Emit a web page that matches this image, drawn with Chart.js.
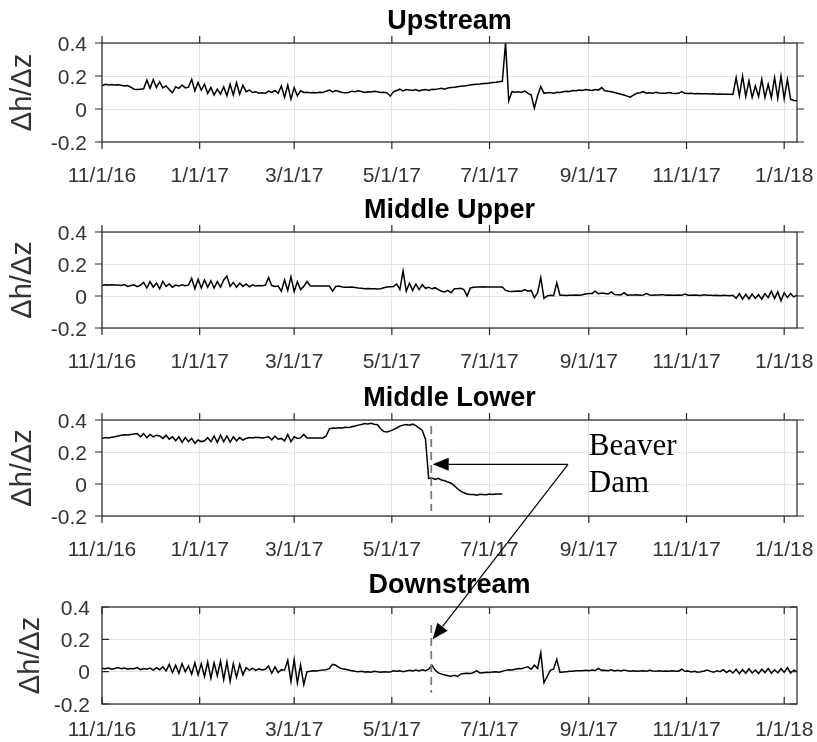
<!DOCTYPE html>
<html>
<head>
<meta charset="utf-8">
<script src="https://cdn.jsdelivr.net/npm/chart.js@4.4.1/dist/chart.umd.min.js"></script>
<style>
  html, body { margin: 0; background: #fff; }
  #fig { position: relative; width: 817px; height: 742px; }
  #fig canvas { position: absolute; left: 0; }
</style>
</head>
<body>
<div id="fig">
  <canvas id="up" width="817" height="187" style="top:0px"></canvas>
  <canvas id="midUp" width="817" height="184" style="top:189px"></canvas>
  <canvas id="midLow" width="817" height="184" style="top:377px"></canvas>
  <canvas id="down" width="817" height="178" style="top:564px"></canvas>
  <canvas id="notes" width="817" height="742" style="top:0px"></canvas>
</div>
<script>
// one sample every STEP days, day 0 = 11/1/16
const STEP = 2
const LAST_DAY = 434

const tickDays = [0, 61, 120, 181, 242, 304, 365, 426]
const tickLabels = ['11/1/16', '1/1/17', '3/1/17', '5/1/17', '7/1/17', '9/1/17', '11/1/17', '1/1/18']
const yTicks = [-0.2, 0, 0.2, 0.4]

const upstream = [
  0.140, 0.150, 0.146, 0.148, 0.145, 0.147, 0.144, 0.140, 0.142, 0.132,
  0.120, 0.118, 0.120, 0.122, 0.175, 0.125, 0.178, 0.130, 0.165, 0.128,
  0.140, 0.118, 0.098, 0.135, 0.125, 0.145, 0.128, 0.132, 0.180, 0.110,
  0.160, 0.115, 0.150, 0.095, 0.130, 0.085, 0.120, 0.090, 0.135, 0.080,
  0.150, 0.085, 0.160, 0.090, 0.145, 0.105, 0.115, 0.100, 0.105, 0.096,
  0.098, 0.095, 0.108, 0.100, 0.112, 0.095, 0.140, 0.070, 0.145, 0.060,
  0.130, 0.080, 0.110, 0.100, 0.102, 0.098, 0.100, 0.099, 0.101, 0.100,
  0.108, 0.115, 0.104, 0.112, 0.106, 0.100, 0.098, 0.100, 0.108, 0.104,
  0.110, 0.106, 0.100, 0.105, 0.103, 0.107, 0.105, 0.100, 0.102, 0.098,
  0.078, 0.105, 0.112, 0.120, 0.110, 0.118, 0.115, 0.112, 0.118, 0.110,
  0.115, 0.118, 0.112, 0.120, 0.118, 0.122, 0.125, 0.120, 0.128, 0.130,
  0.132, 0.135, 0.138, 0.140, 0.142, 0.145, 0.148, 0.150, 0.152, 0.155,
  0.155, 0.158, 0.160, 0.162, 0.165, 0.168, 0.400, 0.050, 0.105, 0.102,
  0.105, 0.100, 0.108, 0.095, 0.085, 0.005, 0.080, 0.137, 0.095, 0.098,
  0.100, 0.096, 0.102, 0.100, 0.105, 0.108, 0.106, 0.112, 0.110, 0.115,
  0.112, 0.118, 0.115, 0.112, 0.118, 0.114, 0.130, 0.110, 0.108, 0.104,
  0.100, 0.095, 0.090, 0.085, 0.078, 0.072, 0.085, 0.095, 0.098, 0.105,
  0.096, 0.098, 0.095, 0.102, 0.097, 0.095, 0.096, 0.100, 0.096, 0.094,
  0.095, 0.105, 0.095, 0.094, 0.095, 0.093, 0.094, 0.092, 0.093, 0.092,
  0.091, 0.092, 0.090, 0.091, 0.090, 0.090, 0.089, 0.088, 0.190, 0.080,
  0.200, 0.075, 0.170, 0.070, 0.140, 0.075, 0.180, 0.070, 0.150, 0.068,
  0.190, 0.065, 0.200, 0.062, 0.180, 0.060, 0.052, 0.050,
]

const middleUpper = [
  0.065, 0.070, 0.068, 0.071, 0.069, 0.068, 0.066, 0.072, 0.060, 0.065,
  0.070, 0.058, 0.068, 0.085, 0.050, 0.090, 0.055, 0.080, 0.045, 0.092,
  0.060, 0.075, 0.055, 0.068, 0.062, 0.070, 0.064, 0.068, 0.110, 0.045,
  0.105, 0.050, 0.100, 0.055, 0.095, 0.050, 0.090, 0.055, 0.100, 0.125,
  0.060, 0.085, 0.055, 0.080, 0.060, 0.075, 0.058, 0.070, 0.062, 0.066,
  0.064, 0.068, 0.115, 0.065, 0.060, 0.062, 0.030, 0.100, 0.035, 0.120,
  0.028, 0.090, 0.040, 0.060, 0.090, 0.064, 0.063, 0.062, 0.062, 0.062,
  0.062, 0.062, 0.030, 0.060, 0.062, 0.056, 0.055, 0.054, 0.056, 0.053,
  0.050, 0.048, 0.046, 0.047, 0.045, 0.046, 0.044, 0.046, 0.052, 0.056,
  0.058, 0.060, 0.075, 0.040, 0.156, 0.030, 0.080, 0.035, 0.075, 0.040,
  0.070, 0.048, 0.055, 0.045, 0.052, 0.040, 0.030, 0.025, 0.035, 0.020,
  0.045, 0.046, 0.048, 0.040, 0.000, 0.050, 0.055, 0.056, 0.056, 0.058,
  0.056, 0.056, 0.057, 0.056, 0.056, 0.056, 0.035, 0.030, 0.028, 0.030,
  0.032, 0.030, 0.040, 0.030, 0.035, -0.010, 0.020, 0.115, -0.015, 0.000,
  0.005, 0.002, 0.083, 0.005, 0.004, 0.003, 0.005, 0.004, 0.006, 0.005,
  0.008, 0.012, 0.015, 0.016, 0.030, 0.014, 0.018, 0.015, 0.012, 0.025,
  0.010, 0.008, 0.006, 0.020, 0.005, 0.007, 0.006, 0.008, 0.005, 0.006,
  0.015, 0.006, 0.005, 0.007, 0.006, 0.010, 0.005, 0.006, 0.004, 0.005,
  0.006, 0.004, 0.012, 0.005, 0.004, 0.006, 0.005, 0.003, 0.008, 0.004,
  0.005, 0.003, 0.004, 0.002, 0.004, 0.003, 0.002, 0.005, -0.015, 0.015,
  -0.020, 0.010, -0.018, 0.012, -0.015, 0.008, -0.020, 0.015, -0.010, 0.030,
  -0.015, 0.025, -0.030, 0.020, -0.010, 0.015, -0.005, 0.005,
]

// logger stops on day 250
const middleLower = [
  0.285, 0.290, 0.288, 0.292, 0.295, 0.300, 0.305, 0.308, 0.306, 0.310,
  0.312, 0.315, 0.295, 0.315, 0.290, 0.310, 0.295, 0.305, 0.300, 0.285,
  0.305, 0.280, 0.295, 0.270, 0.295, 0.260, 0.290, 0.265, 0.285, 0.255,
  0.275, 0.265, 0.270, 0.290, 0.265, 0.300, 0.260, 0.305, 0.265, 0.300,
  0.262, 0.295, 0.270, 0.290, 0.275, 0.285, 0.290, 0.288, 0.292, 0.290,
  0.288, 0.290, 0.295, 0.275, 0.300, 0.280, 0.285, 0.270, 0.310, 0.265,
  0.295, 0.285, 0.288, 0.310, 0.288, 0.288, 0.288, 0.288, 0.287, 0.288,
  0.300, 0.345, 0.350, 0.348, 0.352, 0.350, 0.355, 0.353, 0.358, 0.362,
  0.368, 0.372, 0.378, 0.375, 0.380, 0.374, 0.370, 0.345, 0.328, 0.325,
  0.332, 0.340, 0.350, 0.362, 0.368, 0.372, 0.368, 0.374, 0.365, 0.350,
  0.335, 0.280, 0.035, 0.038, 0.028, 0.035, 0.025, 0.020, 0.012, 0.005,
  -0.010, -0.030, -0.045, -0.055, -0.062, -0.065, -0.066, -0.070, -0.064, -0.066,
  -0.067, -0.062, -0.066, -0.063, -0.062, -0.062,
]

const downstream = [
  0.020, 0.018, 0.022, 0.015, 0.020, 0.025, 0.018, 0.022, 0.015, 0.020,
  0.018, 0.025, 0.012, 0.020, 0.015, 0.022, 0.010, 0.025, 0.012, 0.030,
  0.005, 0.045, -0.005, 0.040, -0.010, 0.050, 0.000, 0.035, -0.015, 0.055,
  -0.020, 0.050, -0.030, 0.060, -0.040, 0.055, -0.025, 0.065, -0.050, 0.060,
  -0.060, 0.050, -0.035, 0.045, -0.020, 0.025, 0.010, 0.020, 0.008, 0.018,
  0.010, 0.015, 0.035, -0.010, 0.030, -0.005, 0.012, 0.010, 0.070, -0.060,
  0.075, -0.070, 0.040, -0.080, 0.000, 0.002, 0.005, 0.004, 0.008, 0.010,
  0.012, 0.020, 0.045, 0.040, 0.025, 0.018, 0.015, 0.010, 0.005, 0.002,
  0.000, 0.003, -0.002, 0.000, -0.003, 0.002, -0.001, -0.004, 0.000, -0.002,
  -0.002, 0.005, 0.002, 0.006, 0.000, 0.004, 0.008, 0.004, 0.010, 0.005,
  0.012, 0.006, 0.015, 0.040, 0.010, -0.008, -0.015, -0.020, -0.025, -0.028,
  -0.022, -0.030, -0.015, -0.012, -0.010, -0.012, -0.005, 0.005, -0.008, -0.006,
  -0.004, -0.005, -0.002, 0.000, -0.003, 0.002, 0.008, 0.012, 0.010, 0.015,
  0.020, 0.018, 0.025, 0.030, 0.015, 0.040, 0.020, 0.117, -0.068, -0.030,
  0.010, 0.015, 0.076, -0.005, -0.002, 0.000, 0.002, 0.003, 0.005, 0.006,
  0.006, 0.008, 0.006, 0.010, 0.007, 0.020, 0.008, 0.009, 0.006, 0.012,
  0.005, 0.008, 0.004, 0.010, 0.005, 0.003, 0.006, 0.002, 0.004, 0.006,
  0.003, 0.008, 0.004, 0.003, 0.005, 0.002, 0.004, 0.003, 0.006, 0.002,
  0.003, 0.015, 0.002, 0.004, -0.002, 0.003, -0.003, 0.000, 0.004, 0.010,
  0.002, -0.004, 0.006, 0.000, 0.012, -0.005, 0.008, -0.008, 0.015, -0.012,
  0.012, -0.010, 0.018, -0.008, 0.010, -0.012, 0.015, -0.006, 0.020, -0.010,
  0.012, -0.008, 0.018, -0.004, 0.025, -0.008, 0.010, 0.000,
]

// beaver dam annotation, in (day, value) of the panel it sits on
const damDay = 205.6
const damSpanLower = [0.362, -0.169]
const damSpanDown = [0.289, -0.13]
const calloutAt = [291, 0.123]
const tipLower = [206.5, 0.123]
const tipDown = [206.5, 0.2]
const noteLines = ['Beaver', 'Dam']
const noteAt = [[304, 0.181], [304, -0.048]]

const AXIS = '#262626'
const TEXT = '#333333'
const GRID = '#e2e2e2'
const TICK_LEN = 7

Chart.defaults.font.family = '"Liberation Sans", Arial, sans-serif'
Chart.defaults.color = TEXT

// box round the plot, MATLAB style tick marks on all four sides, and the title
const frame = {
  id: 'frame',
  afterDraw(chart, args, o) {
    const { ctx, chartArea: a, scales: { x, y } } = chart
    const len = o.inward ? -TICK_LEN : TICK_LEN
    ctx.save()
    ctx.strokeStyle = AXIS
    ctx.lineWidth = 1.2
    ctx.beginPath()
    for (const t of x.ticks) {
      const px = x.getPixelForValue(t.value)
      ctx.moveTo(px, a.bottom); ctx.lineTo(px, a.bottom + len)
      ctx.moveTo(px, a.top); ctx.lineTo(px, a.top - len)
    }
    for (const t of y.ticks) {
      const py = y.getPixelForValue(t.value)
      ctx.moveTo(a.left, py); ctx.lineTo(a.left - len, py)
      ctx.moveTo(a.right, py); ctx.lineTo(a.right + len, py)
    }
    ctx.stroke()
    ctx.strokeRect(a.left, a.top, a.right - a.left, a.bottom - a.top)
    ctx.fillStyle = '#000'
    ctx.font = 'bold 27px "Liberation Sans", Arial, sans-serif'
    ctx.textAlign = 'center'
    ctx.textBaseline = 'alphabetic'
    ctx.fillText(o.title, (a.left + a.right) / 2, a.top - 14)
    ctx.restore()
  },
}

function panel(id, title, values, opt) {
  const data = values.map((v, i) => ({ x: i * STEP, y: v }))
  return new Chart(document.getElementById(id), {
    type: 'line',
    data: {
      datasets: [{
        data,
        borderColor: '#000',
        borderWidth: 1.5,
        pointRadius: 0,
        tension: 0,
      }],
    },
    options: {
      responsive: false,
      animation: false,
      devicePixelRatio: 1,
      layout: { padding: { top: 43, right: 20, bottom: 0, left: 0 } },
      plugins: {
        legend: { display: false },
        tooltip: { enabled: false },
        frame: { title, inward: opt.inward },
      },
      scales: {
        x: {
          type: 'linear',
          min: 0,
          max: LAST_DAY,
          afterBuildTicks: (s) => { s.ticks = tickDays.map((value) => ({ value })) },
          afterFit: (s) => { s.height = opt.xSpace; s.paddingLeft = 0; s.paddingRight = 0 },
          grid: { color: GRID, drawTicks: false },
          border: { display: false },
          ticks: {
            autoSkip: false,
            maxRotation: 0,
            padding: opt.xPad,
            font: { size: 21 },
            callback: (v) => tickLabels[tickDays.indexOf(v)],
          },
        },
        y: {
          min: -0.2,
          max: 0.4,
          afterBuildTicks: (s) => { s.ticks = yTicks.map((value) => ({ value })) },
          afterFit: (s) => { s.width = 102; s.paddingTop = 0; s.paddingBottom = 0 },
          grid: { color: GRID, drawTicks: false },
          border: { display: false },
          ticks: {
            padding: opt.yPad,
            labelOffset: 2,
            font: { size: 21 },
            callback: (v) => (v === 0 ? '0' : v.toFixed(1)),
          },
          title: {
            display: true,
            text: 'Δh/Δz',
            font: { size: 29 },
            padding: { top: opt.titlePad, bottom: 0 },
          },
        },
      },
    },
    plugins: [frame],
  })
}

const outSide = { inward: false, xSpace: 45, xPad: 22, yPad: 15, titlePad: 6 }
panel('up', 'Upstream', upstream, outSide)
panel('midUp', 'Middle Upper', middleUpper, outSide)
const lowerChart = panel('midLow', 'Middle Lower', middleLower, outSide)
const downChart = panel('down', 'Downstream', downstream,
  { inward: true, xSpace: 38, xPad: 14, yPad: 12, titlePad: 14 })

// annotation layer spanning the two lower panels
function at(chart, [day, v]) {
  const c = chart.canvas
  return [c.offsetLeft + chart.scales.x.getPixelForValue(day), c.offsetTop + chart.scales.y.getPixelForValue(v)]
}

function arrow(ctx, [x0, y0], [x1, y1]) {
  const HEAD = 16, HALF = 6.5
  const a = Math.atan2(y1 - y0, x1 - x0)
  const bx = x1 - HEAD * Math.cos(a)
  const by = y1 - HEAD * Math.sin(a)
  ctx.beginPath()
  ctx.moveTo(x0, y0)
  ctx.lineTo(bx, by)
  ctx.stroke()
  ctx.beginPath()
  ctx.moveTo(x1, y1)
  ctx.lineTo(bx + HALF * Math.sin(a), by - HALF * Math.cos(a))
  ctx.lineTo(bx - HALF * Math.sin(a), by + HALF * Math.cos(a))
  ctx.closePath()
  ctx.fill()
}

const ctx = document.getElementById('notes').getContext('2d')

ctx.save()
ctx.strokeStyle = '#7a7a7a'
ctx.lineWidth = 1.8
ctx.setLineDash([8, 5])
for (const [chart, span] of [[lowerChart, damSpanLower], [downChart, damSpanDown]]) {
  const [x, y0] = at(chart, [damDay, span[0]])
  const [, y1] = at(chart, [damDay, span[1]])
  ctx.beginPath()
  ctx.moveTo(x, y0)
  ctx.lineTo(x, y1)
  ctx.stroke()
}
ctx.restore()

ctx.strokeStyle = '#000'
ctx.fillStyle = '#000'
ctx.lineWidth = 1.2
const joint = at(lowerChart, calloutAt)
arrow(ctx, joint, at(lowerChart, tipLower))
arrow(ctx, joint, at(downChart, tipDown))

ctx.font = '31px "Liberation Serif", "Times New Roman", serif'
ctx.textAlign = 'left'
ctx.textBaseline = 'alphabetic'
noteLines.forEach((line, i) => {
  const [x, y] = at(lowerChart, noteAt[i])
  ctx.fillText(line, x, y)
})
</script>
</body>
</html>
